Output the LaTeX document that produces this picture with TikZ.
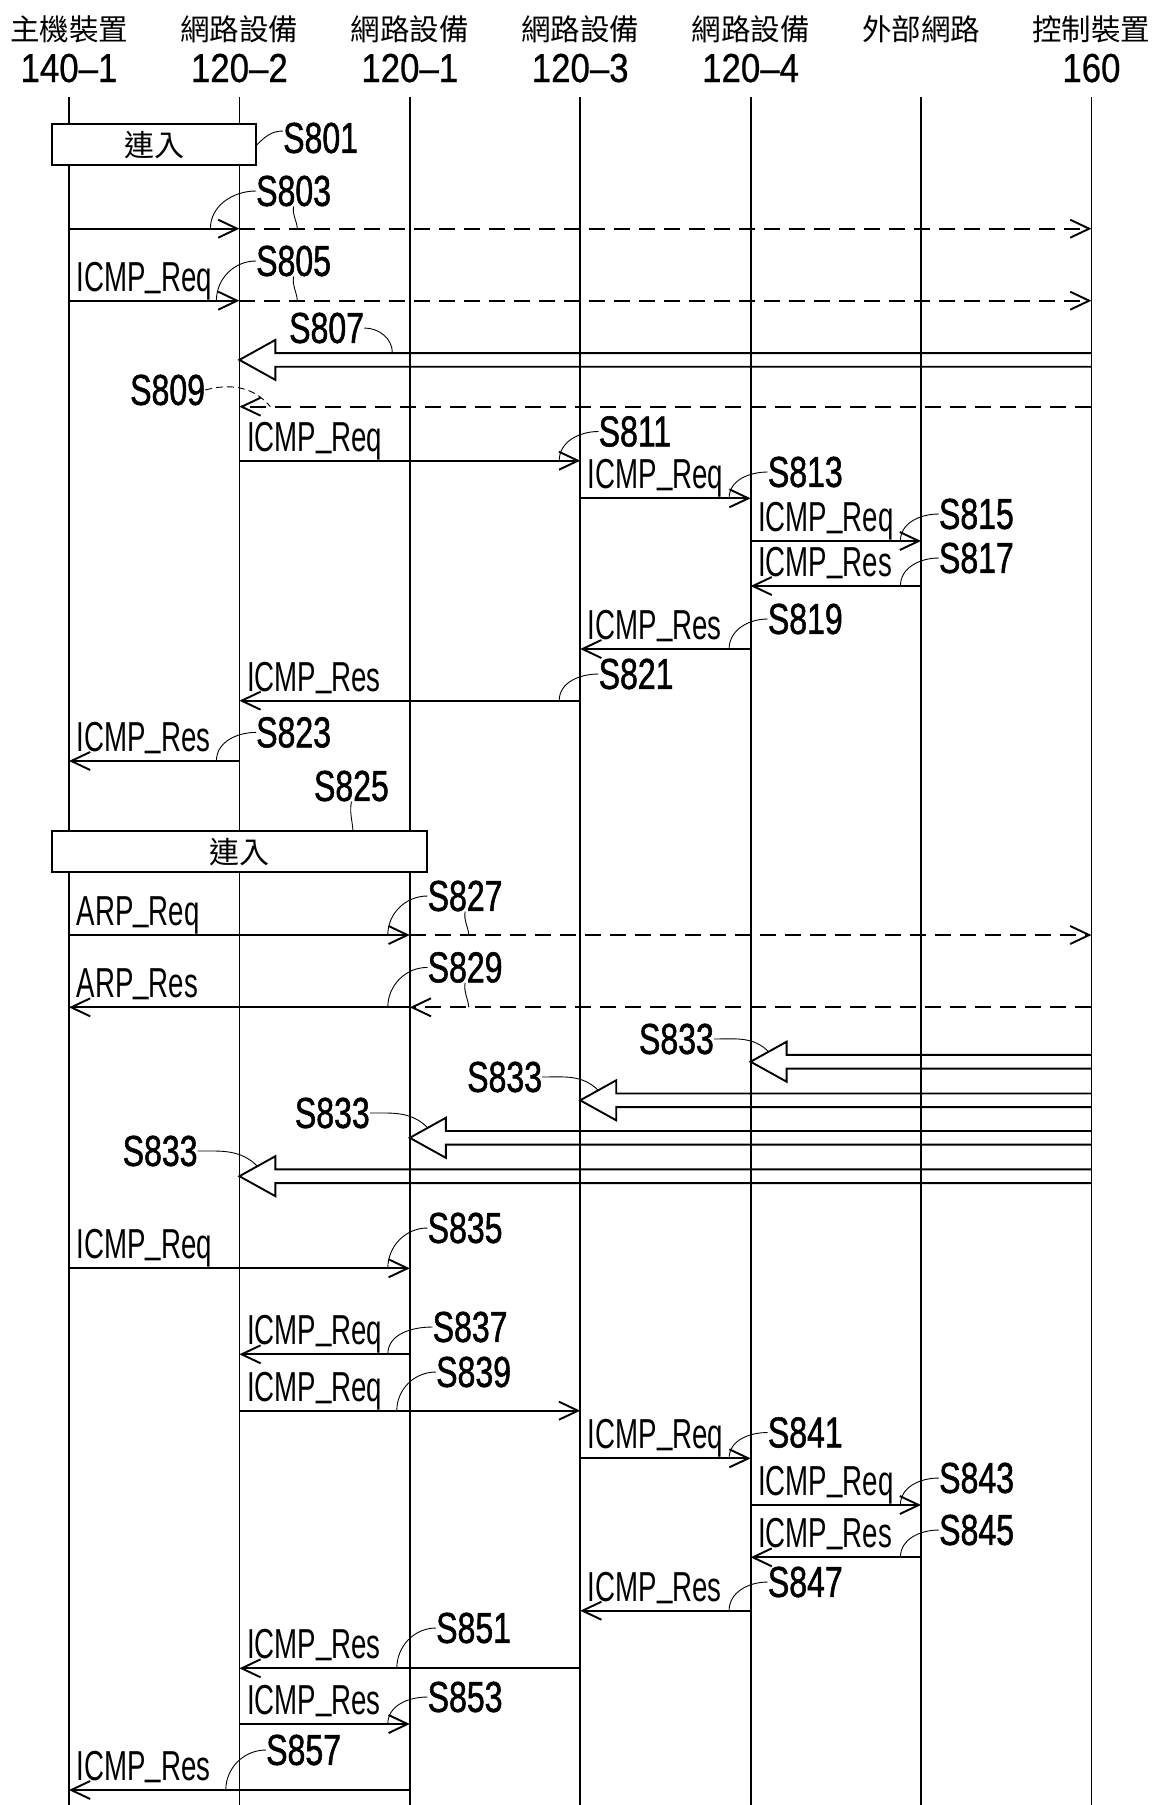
\documentclass[tikz,border=0pt]{standalone}
\usepackage{fontspec}
\setmainfont{Liberation Sans}
\newfontfamily\pktfont{Liberation Sans}[FakeStretch=0.66]
\newfontfamily\tagfont{Liberation Sans}[FakeStretch=0.74,FakeBold=1.2]
\newfontfamily\numfont{Liberation Sans}[FakeStretch=0.86,FakeBold=0.6]
\newfontfamily\cjkfont{Noto Sans CJK TC}
\newcommand\pktbar{\raisebox{0.14em}{\_}}
\usetikzlibrary{arrows.meta,calc}

\begin{document}
\begin{tikzpicture}[
  x=1pt, y=1pt,
  life/.style={line width=1.8pt},
  who/.style={font=\cjkfont\fontsize{29.5}{32}\selectfont, anchor=base, inner sep=0pt},
  num/.style={font=\numfont\fontsize{40.5}{44}\selectfont, anchor=base, inner sep=0pt},
  joinbox/.style={draw, line width=2pt, fill=white, inner sep=0pt,
    font=\cjkfont\fontsize{30}{32}\selectfont},
  msg/.style={line width=1.9pt, -{Straight Barb[length=19pt,width=18pt]}},
  dmsg/.style={msg, dash pattern=on 16pt off 9pt},
  fat/.style={line width=1.9pt, line join=miter, to path={
    let \p1=(\tikztostart), \p2=(\tikztotarget) in
    (\x1,\y1+6.85pt) -- (\x2+36pt,\y1+6.85pt) -- (\x2+36pt,\y1+20pt) -- (\x2,\y2)
    -- (\x2+36pt,\y1-20pt) -- (\x2+36pt,\y1-6.85pt) -- (\x1,\y1-6.85pt)}},
  pkt/.style={font=\pktfont\fontsize{41.9}{44}\selectfont, anchor=base west,
    inner sep=0pt, xshift=7.5pt, yshift=9.5pt},
  tag/.style={font=\tagfont\fontsize{43.3}{46}\selectfont, anchor=west, inner sep=0pt},
  lead/.style={line width=0.9pt},
  dlead/.style={lead, dash pattern=on 7pt off 4pt}
]
\useasboundingbox (0,0) rectangle (1163,-1805);

% lifelines and headers
\foreach \i/\who in {1/主機裝置, 2/網路設備, 3/網路設備, 4/網路設備,
    5/網路設備, 6/外部網路, 7/控制裝置}{
  \coordinate (L\i) at ({69+170.4*(\i-1)},-97);
  \coordinate (E\i) at ({69+170.4*(\i-1)},-1805);
  \node[who] (who\i) at (L\i |- 0,-40) {\who};
  \draw[life] (L\i) -- (E\i);
}
\foreach \i/\num in {1/140–1, 2/120–2, 3/120–1, 4/120–3, 5/120–4, 7/160}
  \node[num] (num\i) at (L\i |- 0,-82) {\num};

% message rows
\foreach \m/\y in {803/228.7, 805/300.7, 807/359.9, 809/406.7, 811/460.7,
    813/498.3, 815/541, 817/586, 819/649, 821/700.7, 823/761, 827/935,
    829/1007.3, 833a/1061.7, 833b/1100.3, 833c/1137.8, 833d/1176.2,
    835/1268.3, 837/1354.3, 839/1410.7, 841/1458.3, 843/1505, 845/1557.3,
    847/1610.7, 851/1668.3, 853/1724, 857/1790}
  \coordinate (m\m) at (0,-\y);

% attach phases
\node[joinbox, minimum width=204pt, minimum height=40.7pt] (join1) at (154,-144.7) {連入};
\node[joinbox, minimum width=375.5pt, minimum height=41.3pt] (join2) at (239.7,-851.7) {連入};

% S801 - S809
\node[tag] (s801) at (283,-138) {S801};
\draw[lead] (join1.east) to[out=45,in=180] ([yshift=7pt]s801.west);

\draw[msg] (L1 |- m803) -- (L2 |- m803);
\draw[dmsg] (L2 |- m803) -- (L7 |- m803);
\node[tag] (s803) at (256,-191) {S803};
\draw[lead] (s803.west) to[out=180,in=90] ($(L2 |- m803)+(-29,0)$);
\draw[lead] (s803.south) to[out=-100,in=95] ($(L2 |- m803)+(58,0)$);

\draw[msg] (L1 |- m805) -- (L2 |- m805);
\draw[dmsg] (L2 |- m805) -- (L7 |- m805);
\node[pkt] (p805) at (L1 |- m805) {ICMP\pktbar Req};
\node[tag] (s805) at (256,-261) {S805};
\draw[lead] (s805.west) to[out=180,in=90] ($(L2 |- m805)+(-23,0)$);
\draw[lead] (s805.south) to[out=-100,in=95] ($(L2 |- m805)+(58,0)$);

\draw[fat] (L7 |- m807) to (L2 |- m807);
\node[tag] (s807) at (289,-328) {S807};
\draw[lead] (s807.east) to[out=0,in=90] ($(L2 |- m807)+(153,6.85)$);

\draw[dmsg] (L7 |- m809) -- (L2 |- m809);
\node[tag] (s809) at (130,-390) {S809};
\draw[dlead] (s809.east) to[out=15,in=130] ($(L2 |- m809)+(31,0)$);

% S811 - S823
\draw[msg] (L2 |- m811) -- (L4 |- m811);
\node[pkt] (p811) at (L2 |- m811) {ICMP\pktbar Req};
\node[tag] (s811) at (598.5,-431.5) {S811};
\draw[lead] (s811.west) to[out=180,in=90] ($(L4 |- m811)+(-21,0)$);

\draw[msg] (L4 |- m813) -- (L5 |- m813);
\node[pkt] (p813) at (L4 |- m813) {ICMP\pktbar Req};
\node[tag] (s813) at (767.7,-472) {S813};
\draw[lead] (s813.west) to[out=180,in=90] ($(L5 |- m813)+(-21.5,0)$);

\draw[msg] (L5 |- m815) -- (L6 |- m815);
\node[pkt] (p815) at (L5 |- m815) {ICMP\pktbar Req};
\node[tag] (s815) at (938.8,-514) {S815};
\draw[lead] (s815.west) to[out=180,in=90] ($(L6 |- m815)+(-20.6,0)$);

\draw[msg] (L6 |- m817) -- (L5 |- m817);
\node[pkt] (p817) at (L5 |- m817) {ICMP\pktbar Res};
\node[tag] (s817) at (938.8,-558) {S817};
\draw[lead] (s817.west) to[out=180,in=90] ($(L6 |- m817)+(-20.6,0)$);

\draw[msg] (L5 |- m819) -- (L4 |- m819);
\node[pkt] (p819) at (L4 |- m819) {ICMP\pktbar Res};
\node[tag] (s819) at (767.7,-619) {S819};
\draw[lead] (s819.west) to[out=180,in=90] ($(L5 |- m819)+(-21.5,0)$);

\draw[msg] (L4 |- m821) -- (L2 |- m821);
\node[pkt] (p821) at (L2 |- m821) {ICMP\pktbar Res};
\node[tag] (s821) at (598.5,-674) {S821};
\draw[lead] (s821.west) to[out=180,in=90] ($(L4 |- m821)+(-21,0)$);

\draw[msg] (L2 |- m823) -- (L1 |- m823);
\node[pkt] (p823) at (L1 |- m823) {ICMP\pktbar Res};
\node[tag] (s823) at (256,-732.4) {S823};
\draw[lead] (s823.west) to[out=180,in=90] ($(L2 |- m823)+(-23,0)$);

% S825 - S833
\node[tag] (s825) at (313.8,-786) {S825};
\draw[lead] (s825.south) to[out=-100,in=95] ($(join2.north west)+(302,0)$);

\draw[msg] (L1 |- m827) -- (L3 |- m827);
\draw[dmsg] (L3 |- m827) -- (L7 |- m827);
\node[pkt] (p827) at (L1 |- m827) {ARP\pktbar Req};
\node[tag] (s827) at (427.5,-896) {S827};
\draw[lead] (s827.west) to[out=180,in=90] ($(L3 |- m827)+(-22,0)$);
\draw[lead] (s827.south) to[out=-100,in=95] ($(L3 |- m827)+(59,0)$);

\draw[dmsg] (L7 |- m829) -- (L3 |- m829);
\draw[msg] (L3 |- m829) -- (L1 |- m829);
\node[pkt] (p829) at (L1 |- m829) {ARP\pktbar Res};
\node[tag] (s829) at (427.5,-967.4) {S829};
\draw[lead] (s829.west) to[out=180,in=90] ($(L3 |- m829)+(-22,0)$);
\draw[lead] (s829.south) to[out=-100,in=95] ($(L3 |- m829)+(59,0)$);

\draw[fat] (L7 |- m833a) to (L5 |- m833a);
\draw[fat] (L7 |- m833b) to (L4 |- m833b);
\draw[fat] (L7 |- m833c) to (L3 |- m833c);
\draw[fat] (L7 |- m833d) to (L2 |- m833d);
\node[tag] (s833a) at (638.8,-1039) {S833};
\node[tag] (s833b) at (467,-1077) {S833};
\node[tag] (s833c) at (294.7,-1113) {S833};
\node[tag] (s833d) at (122.5,-1151) {S833};
\draw[lead] (s833a.east) to[out=0,in=135] ($(L5 |- m833a)+(18,10)$);
\draw[lead] (s833b.east) to[out=0,in=135] ($(L4 |- m833b)+(18,10)$);
\draw[lead] (s833c.east) to[out=0,in=135] ($(L3 |- m833c)+(18,10)$);
\draw[lead] (s833d.east) to[out=0,in=135] ($(L2 |- m833d)+(18,10)$);

% S835 - S857
\draw[msg] (L1 |- m835) -- (L3 |- m835);
\node[pkt] (p835) at (L1 |- m835) {ICMP\pktbar Req};
\node[tag] (s835) at (427.5,-1228) {S835};
\draw[lead] (s835.west) to[out=180,in=90] ($(L3 |- m835)+(-22,0)$);

\draw[msg] (L3 |- m837) -- (L2 |- m837);
\node[pkt] (p837) at (L2 |- m837) {ICMP\pktbar Req};
\node[tag] (s837) at (432.5,-1327) {S837};
\draw[lead] (s837.west) to[out=180,in=90] ($(L3 |- m837)+(-22,0)$);

\draw[msg] (L2 |- m839) -- (L4 |- m839);
\node[pkt] (p839) at (L2 |- m839) {ICMP\pktbar Req};
\node[tag] (s839) at (436,-1372) {S839};
\draw[lead] (s839.west) to[out=180,in=90] ($(L3 |- m839)+(-13,0)$);

\draw[msg] (L4 |- m841) -- (L5 |- m841);
\node[pkt] (p841) at (L4 |- m841) {ICMP\pktbar Req};
\node[tag] (s841) at (767.7,-1432.5) {S841};
\draw[lead] (s841.west) to[out=180,in=90] ($(L5 |- m841)+(-21.5,0)$);

\draw[msg] (L5 |- m843) -- (L6 |- m843);
\node[pkt] (p843) at (L5 |- m843) {ICMP\pktbar Req};
\node[tag] (s843) at (939,-1478) {S843};
\draw[lead] (s843.west) to[out=180,in=90] ($(L6 |- m843)+(-20.6,0)$);

\draw[msg] (L6 |- m845) -- (L5 |- m845);
\node[pkt] (p845) at (L5 |- m845) {ICMP\pktbar Res};
\node[tag] (s845) at (939,-1530) {S845};
\draw[lead] (s845.west) to[out=180,in=90] ($(L6 |- m845)+(-20.6,0)$);

\draw[msg] (L5 |- m847) -- (L4 |- m847);
\node[pkt] (p847) at (L4 |- m847) {ICMP\pktbar Res};
\node[tag] (s847) at (767.7,-1582) {S847};
\draw[lead] (s847.west) to[out=180,in=90] ($(L5 |- m847)+(-21.5,0)$);

\draw[msg] (L4 |- m851) -- (L2 |- m851);
\node[pkt] (p851) at (L2 |- m851) {ICMP\pktbar Res};
\node[tag] (s851) at (436,-1628) {S851};
\draw[lead] (s851.west) to[out=180,in=90] ($(L3 |- m851)+(-13,0)$);

\draw[msg] (L2 |- m853) -- (L3 |- m853);
\node[pkt] (p853) at (L2 |- m853) {ICMP\pktbar Res};
\node[tag] (s853) at (427.5,-1697) {S853};
\draw[lead] (s853.west) to[out=180,in=90] ($(L3 |- m853)+(-22,0)$);

\draw[msg] (L3 |- m857) -- (L1 |- m857);
\node[pkt] (p857) at (L1 |- m857) {ICMP\pktbar Res};
\node[tag] (s857) at (266,-1750) {S857};
\draw[lead] (s857.west) to[out=180,in=90] ($(L2 |- m857)+(-13.6,0)$);

\end{tikzpicture}
\end{document}
